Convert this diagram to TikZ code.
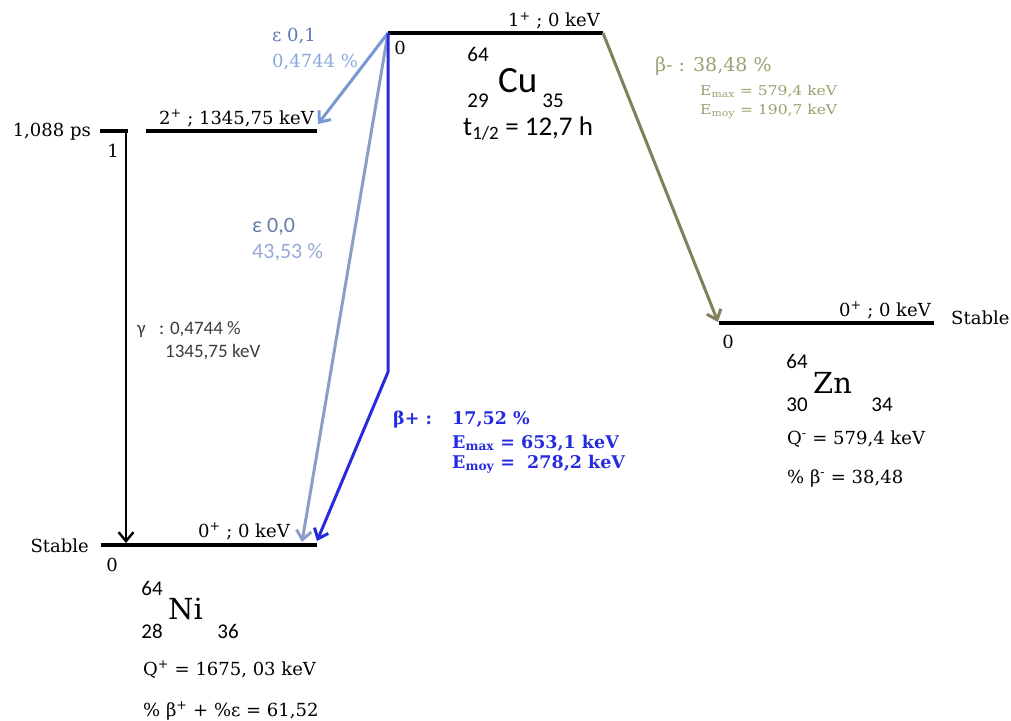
\documentclass[tikz,border=0pt]{standalone}
\usepackage{fontspec}
\setmainfont{DejaVu Serif}
\newfontfamily\calib{Carlito}
\usetikzlibrary{arrows.meta}

\definecolor{bplus}{RGB}{38,44,222}
\definecolor{bmoins}{RGB}{128,128,92}
\definecolor{bmtxt}{RGB}{158,158,112}
\definecolor{epsA}{RGB}{120,152,212}
\definecolor{epsB}{RGB}{140,158,198}
\definecolor{epstxt}{RGB}{92,120,180}
\definecolor{epslt}{RGB}{138,168,218}
\definecolor{gtxt}{RGB}{60,60,60}

\begin{document}
\begin{tikzpicture}[x=1pt,y=-1pt,>={Straight Barb[length=9pt,width=15pt]},line join=round,
  level/.style={line width=3.5pt},
  trans/.style={->,line width=3pt},
  lbl/.style={inner sep=0pt,anchor=base west,font=\fontsize{18}{21}\selectfont},
  sans/.style={inner sep=0pt,font=\calib\fontsize{21}{24}\selectfont},
  iso/.style={inner sep=0pt,anchor=base west,font=\fontsize{29}{32}\selectfont}]
  \useasboundingbox (0,0) rectangle (1011,720);

  % niveaux
  \coordinate (cuL) at (388,33);   \coordinate (cuR) at (603,33);
  \coordinate (tkL) at (100,131);  \coordinate (tkR) at (128,131);
  \coordinate (niEL) at (146,131); \coordinate (niER) at (317,131);
  \coordinate (niL) at (101,545);  \coordinate (niR) at (317,545);
  \coordinate (znL) at (719,323);  \coordinate (znR) at (934,323);
  \draw[level] (cuL) -- (cuR);
  \draw[level] (tkL) -- (tkR);
  \draw[level] (niEL) -- (niER);
  \draw[level] (niL) -- (niR);
  \draw[level] (znL) -- (znR);

  % transitions
  \coordinate (gTop) at (126,131);  \coordinate (gTip) at (126,543);
  \coordinate (bmTip) at (718,322);
  \coordinate (e1Tip) at (318,124); \coordinate (e0Tip) at (302,542);
  \coordinate (kink) at (388,372);  \coordinate (bpTip) at (317,541);
  \draw[trans,line width=2.4pt] (gTop) -- (gTip);
  \draw[trans,bmoins] (cuR) -- (bmTip);
  \draw[trans,epsA] (cuL) -- (e1Tip);
  \draw[trans,epsB] (cuL) -- (e0Tip);
  \draw[trans,bplus] (cuL) -- (kink) -- (bpTip);

  % 64Cu
  \node[lbl,anchor=base east] (cuSp) at (600,27) {1\textsuperscript{+} ; 0 keV};
  \node[lbl,anchor=center] (cuZ) at (400,48) {0};
  \node[sans,anchor=center] (cuA) at (478,54) {64};
  \node[sans,anchor=base west,font=\calib\fontsize{37}{40}\selectfont] (cuN) at (498,92) {Cu};
  \node[sans,anchor=center] (cuP) at (478,101) {29};
  \node[sans,anchor=center] (cuNn) at (553,101) {35};
  \node[sans,anchor=base west,font=\calib\fontsize{27}{30}\selectfont] (cuT) at (463,135) {t\textsubscript{1/2} = 12,7 h};

  % 64Ni
  \node[lbl,anchor=base east] (tps) at (91,136) {1,088 ps};
  \node[lbl,anchor=center] (niOne) at (113,151) {1};
  \node[lbl,anchor=base east] (niESp) at (314,124) {2\textsuperscript{+} ; 1345,75 keV};
  \node[lbl,anchor=base east] (niStab) at (89,552) {Stable};
  \node[lbl,anchor=center] (niZ) at (112,565) {0};
  \node[lbl,anchor=base east] (niSp) at (290,537) {0\textsuperscript{+} ; 0 keV};
  \node[sans,anchor=center] (niA) at (152,588) {64};
  \node[iso] (niN) at (168,619) {Ni};
  \node[sans,anchor=center] (niP) at (152,631) {28};
  \node[sans,anchor=center] (niNn) at (228,631) {36};
  \node[lbl] (niQ) at (143,675) {Q\textsuperscript{+} = 1675, 03 keV};
  \node[lbl] (niPc) at (143,716) {\% β\textsuperscript{+} + \%ε = 61,52};

  % 64Zn
  \node[lbl,anchor=base east] (znSp) at (931,316) {0\textsuperscript{+} ; 0 keV};
  \node[lbl] (znStab) at (951,324) {Stable};
  \node[lbl,anchor=center] (znZ) at (728,342) {0};
  \node[sans,anchor=center] (znA) at (797,361) {64};
  \node[iso] (znN) at (813,393) {Zn};
  \node[sans,anchor=center] (znP) at (797,405) {30};
  \node[sans,anchor=center] (znNn) at (882,405) {34};
  \node[lbl] (znQ) at (787,444) {Q\textsuperscript{-} = 579,4 keV};
  \node[lbl] (znPc) at (787,483) {\% β\textsuperscript{-} = 38,48};

  % etiquettes des transitions
  \node[lbl,epstxt] (e1a) at (272,41) {ε 0,1};
  \node[lbl,epslt] (e1b) at (272,67) {0,4744 \%};
  \node[sans,anchor=base west,font=\calib\fontsize{22}{25}\selectfont,color={rgb,255:red,105;green,125;blue,172}] (e0a) at (252,232) {ε 0,0};
  \node[sans,anchor=base west,font=\calib\fontsize{22}{25}\selectfont,color={rgb,255:red,150;green,170;blue,212}] (e0b) at (252,258) {43,53 \%};
  \node[sans,anchor=base west,gtxt,font=\calib\fontsize{19}{22}\selectfont] (gA) at (137,334) {γ};
  \node[sans,anchor=base west,gtxt,font=\calib\fontsize{19}{22}\selectfont] (gB) at (159,334) {: 0,4744 \%};
  \node[sans,anchor=base west,gtxt,font=\calib\fontsize{19}{22}\selectfont] (gC) at (165,357) {1345,75 keV};
  \node[lbl,bmtxt,font=\fontsize{19}{22}\selectfont] (bmA) at (655,71) {β- : 38,48 \%};
  \node[lbl,bmtxt,font=\fontsize{13.5}{15}\selectfont,xscale=1.15,transform shape] (bmB) at (700,95) {E\textsubscript{max} = 579,4 keV};
  \node[lbl,bmtxt,font=\fontsize{13.5}{15}\selectfont,xscale=1.15,transform shape] (bmC) at (700,114) {E\textsubscript{moy} = 190,7 keV};
  \node[lbl,bplus,font=\bfseries\fontsize{17.5}{20}\selectfont] (bpA) at (393,424) {β+ :};
  \node[lbl,bplus,font=\bfseries\fontsize{17.5}{20}\selectfont] (bpB) at (452,424) {17,52 \%};
  \node[lbl,bplus,font=\bfseries\fontsize{17.5}{20}\selectfont] (bpC) at (452,448) {E\textsubscript{max} = 653,1 keV};
  \node[lbl,bplus,font=\bfseries\fontsize{17.5}{20}\selectfont] (bpD) at (452,468) {E\textsubscript{moy} =\ \ 278,2 keV};
\end{tikzpicture}
\end{document}
